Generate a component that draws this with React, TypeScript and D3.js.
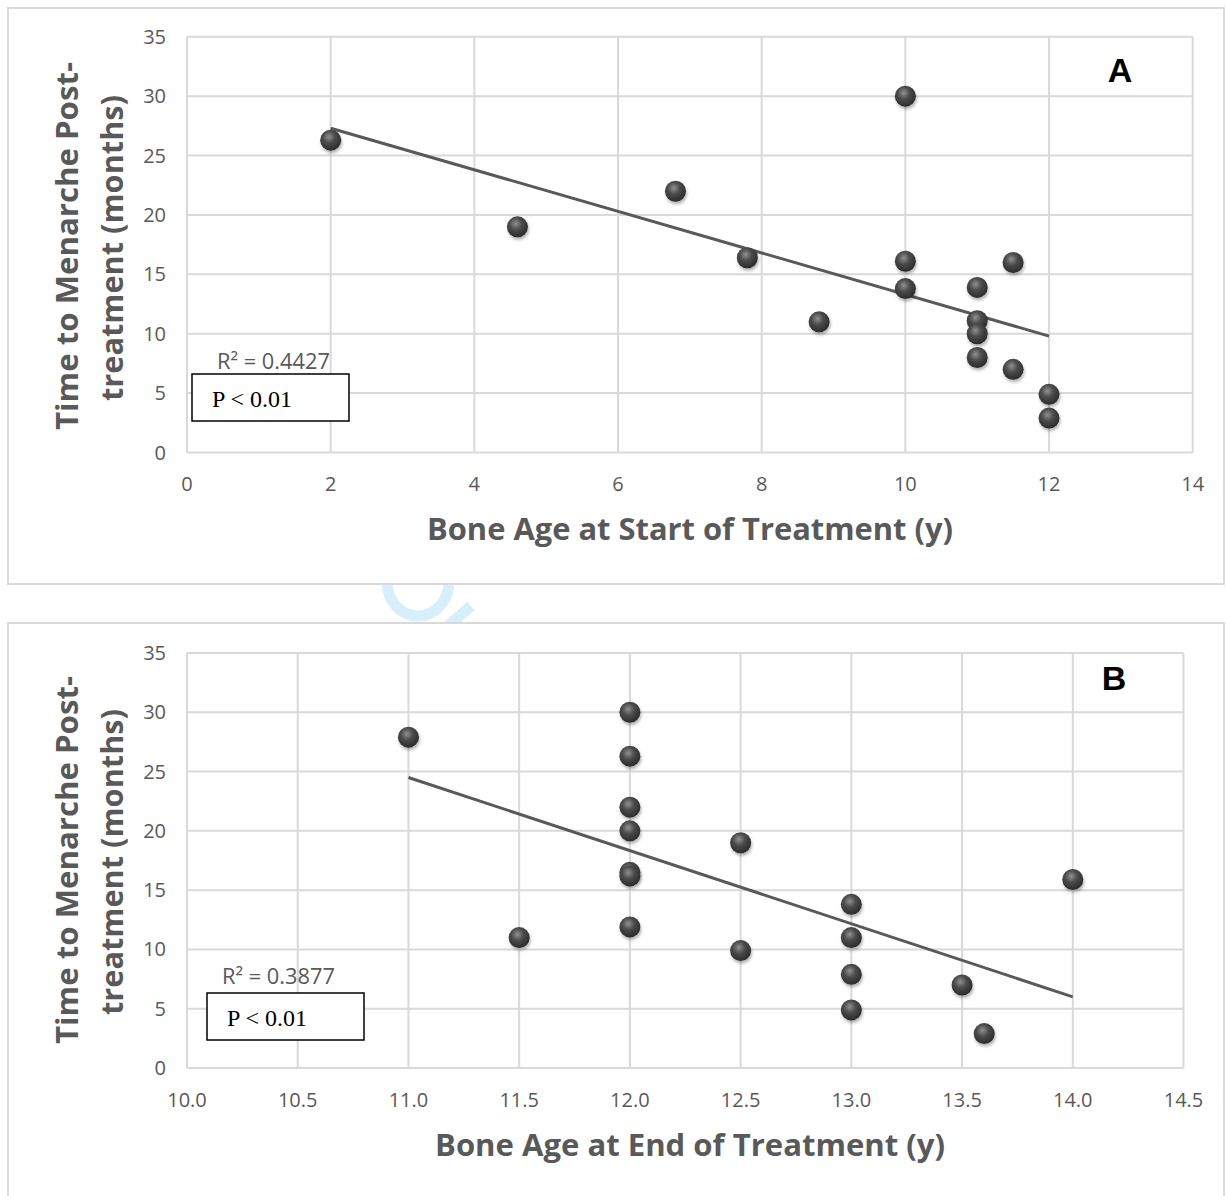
import React, { useEffect, useRef } from "react";
import * as d3 from "d3";

// panel A: bone age at start of treatment vs months to menarche
const startAge = [2, 4.6, 6.8, 7.8, 8.8, 10, 10, 10, 11, 11, 11, 11, 11.5, 11.5, 12, 12];
const startMonths = [26.3, 19, 22, 16.4, 11, 30, 16.1, 13.8, 13.9, 11.1, 10, 8, 16, 7, 4.9, 2.9];
const trendA_x = [2, 12];
const trendA_y = [27.3, 9.8];

// panel B: bone age at end of treatment
const endAge = [11, 11.5, 12, 12, 12, 12, 12, 12, 12, 12.5, 12.5, 13, 13, 13, 13, 13.5, 13.6, 14];
const endMonths = [27.9, 11, 30, 26.3, 22, 20, 16.5, 16.2, 11.9, 19, 9.9, 13.8, 11, 7.9, 4.9, 7, 2.9, 15.9];
const trendB_x = [11, 14];
const trendB_y = [24.5, 6.0];

const yTicks = [0, 5, 10, 15, 20, 25, 30, 35];
const xTicksA = [0, 2, 4, 6, 8, 10, 12, 14];
const xTicksB = [10, 10.5, 11, 11.5, 12, 12.5, 13, 13.5, 14, 14.5];

const GRID = "#d9d9d9";
const TXT = "#595959";
const SANS = "'Open Sans', 'DejaVu Sans', sans-serif";

const App = () => {
    const ref = useRef();

    useEffect(() => {
        const svg = d3.select(ref.current);
        svg.selectAll("*").remove();

        const defs = svg.append("defs");
        const grad = defs.append("radialGradient")
            .attr("id", "ball")
            .attr("cx", "42%").attr("cy", "35%").attr("r", "65%");
        grad.append("stop").attr("offset", "0%").attr("stop-color", "#909090");
        grad.append("stop").attr("offset", "45%").attr("stop-color", "#4b4b4b");
        grad.append("stop").attr("offset", "100%").attr("stop-color", "#2b2b2b");
        const f = defs.append("filter").attr("id", "shadow")
            .attr("x", "-50%").attr("y", "-50%").attr("width", "200%").attr("height", "200%");
        f.append("feDropShadow").attr("dx", 1).attr("dy", 2.5).attr("stdDeviation", 1.6)
            .attr("flood-color", "#000").attr("flood-opacity", 0.3);

        // faint watermark between panels
        svg.append("ellipse")
            .attr("cx", 418).attr("cy", 582).attr("rx", 31).attr("ry", 34)
            .attr("fill", "none").attr("stroke", "#d6effb").attr("stroke-width", 11);
        svg.append("line")
            .attr("x1", 448).attr("y1", 626).attr("x2", 471).attr("y2", 606)
            .attr("stroke", "#d6effb").attr("stroke-width", 11);

        const panel = (cfg) => {
            const { top, frameH, xDomain, xRange, yRange, xTicks, fmt, xs, ys, tx, ty,
                title, letter, letterX, letterY, r2, r2Pos, box, tickY, titleY, yTitleC } = cfg;

            svg.append("rect")
                .attr("x", 8).attr("y", top).attr("width", 1216).attr("height", frameH)
                .attr("fill", "#fff").attr("stroke", GRID).attr("stroke-width", 2);

            const x = d3.scaleLinear().domain(xDomain).range(xRange);
            const y = d3.scaleLinear().domain([0, 35]).range(yRange);
            const g = svg.append("g");

            g.selectAll(".hgrid").data(yTicks).join("line")
                .attr("x1", xRange[0]).attr("x2", xRange[1])
                .attr("y1", d => y(d)).attr("y2", d => y(d))
                .attr("stroke", GRID).attr("stroke-width", 2);
            g.selectAll(".vgrid").data(xTicks).join("line")
                .attr("class", "vgrid")
                .attr("x1", d => x(d)).attr("x2", d => x(d))
                .attr("y1", yRange[0]).attr("y2", yRange[1])
                .attr("stroke", GRID).attr("stroke-width", 2);

            g.selectAll(".ylab").data(yTicks).join("text")
                .attr("class", "ylab")
                .attr("x", 166).attr("y", d => y(d) + 7)
                .attr("text-anchor", "end")
                .style("font-family", SANS).style("font-size", "20px").attr("fill", TXT)
                .text(d => d);
            g.selectAll(".xlab").data(xTicks).join("text")
                .attr("class", "xlab")
                .attr("x", d => x(d)).attr("y", tickY)
                .attr("text-anchor", "middle")
                .style("font-family", SANS).style("font-size", "20px").attr("fill", TXT)
                .text(d => fmt(d));

            // trendline
            g.append("line")
                .attr("x1", x(tx[0])).attr("y1", y(ty[0]))
                .attr("x2", x(tx[1])).attr("y2", y(ty[1]))
                .attr("stroke", "#595959").attr("stroke-width", 3);

            g.selectAll(".pt").data(xs.map((v, i) => [v, ys[i]])).join("circle")
                .attr("class", "pt")
                .attr("cx", d => x(d[0])).attr("cy", d => y(d[1])).attr("r", 10.5)
                .attr("fill", "url(#ball)").attr("filter", "url(#shadow)");

            // axis titles
            g.append("text")
                .attr("x", 690).attr("y", titleY)
                .attr("text-anchor", "middle")
                .attr("textLength", title.len).attr("lengthAdjust", "spacingAndGlyphs")
                .style("font-family", SANS).style("font-size", "31px").style("font-weight", 700)
                .attr("fill", TXT).text(title.text);

            const yt = g.append("g").attr("transform", `translate(0,${yTitleC}) rotate(-90)`);
            yt.append("text").attr("x", 0).attr("y", 78)
                .attr("text-anchor", "middle")
                .attr("textLength", 368).attr("lengthAdjust", "spacingAndGlyphs")
                .style("font-family", SANS).style("font-size", "31px").style("font-weight", 700)
                .attr("fill", TXT).text("Time to Menarche Post-");
            yt.append("text").attr("x", -2).attr("y", 123)
                .attr("text-anchor", "middle")
                .attr("textLength", 306).attr("lengthAdjust", "spacingAndGlyphs")
                .style("font-family", SANS).style("font-size", "31px").style("font-weight", 700)
                .attr("fill", TXT).text("treatment (months)");

            g.append("text")
                .attr("x", letterX).attr("y", letterY)
                .attr("text-anchor", "middle")
                .style("font-family", "'Liberation Sans', Arial, sans-serif")
                .style("font-size", "34px").style("font-weight", 700)
                .attr("fill", "#000").text(letter);

            g.append("text")
                .attr("x", r2Pos[0]).attr("y", r2Pos[1])
                .attr("textLength", 113).attr("lengthAdjust", "spacingAndGlyphs")
                .style("font-family", SANS).style("font-size", "21px")
                .attr("fill", TXT).text(r2);

            g.append("rect")
                .attr("x", box[0]).attr("y", box[1]).attr("width", 157).attr("height", 47)
                .attr("fill", "#fff").attr("stroke", "#000").attr("stroke-width", 1.5);
            g.append("text")
                .attr("x", box[0] + 20).attr("y", box[1] + 33)
                .style("font-family", "'Liberation Serif', 'Times New Roman', serif")
                .style("font-size", "24px").attr("fill", "#000").text("P < 0.01");
        };

        panel({
            top: 8, frameH: 576,
            xDomain: [0, 14], xRange: [187, 1192.7], yRange: [452.5, 36.8],
            xTicks: xTicksA, fmt: d => d,
            xs: startAge, ys: startMonths, tx: trendA_x, ty: trendA_y,
            title: { text: "Bone Age at Start of Treatment (y)", len: 526 },
            letter: "A", letterX: 1120, letterY: 82,
            r2: "R² = 0.4427", r2Pos: [217, 369], box: [192, 374],
            tickY: 491, titleY: 540, yTitleC: 246
        });

        panel({
            top: 623, frameH: 580,
            xDomain: [10, 14.5], xRange: [187, 1183.5], yRange: [1068, 653],
            xTicks: xTicksB, fmt: d => d.toFixed(1),
            xs: endAge, ys: endMonths, tx: trendB_x, ty: trendB_y,
            title: { text: "Bone Age at End of Treatment (y)", len: 510 },
            letter: "B", letterX: 1114, letterY: 690,
            r2: "R² = 0.3877", r2Pos: [222, 984], box: [207, 993],
            tickY: 1107, titleY: 1156, yTitleC: 860
        });
    }, []);

    return (
        <svg ref={ref} width="1226" height="1196"
            style={{ position: "absolute", left: 0, top: 0, background: "#fff" }}></svg>
    );
};

export default App;
